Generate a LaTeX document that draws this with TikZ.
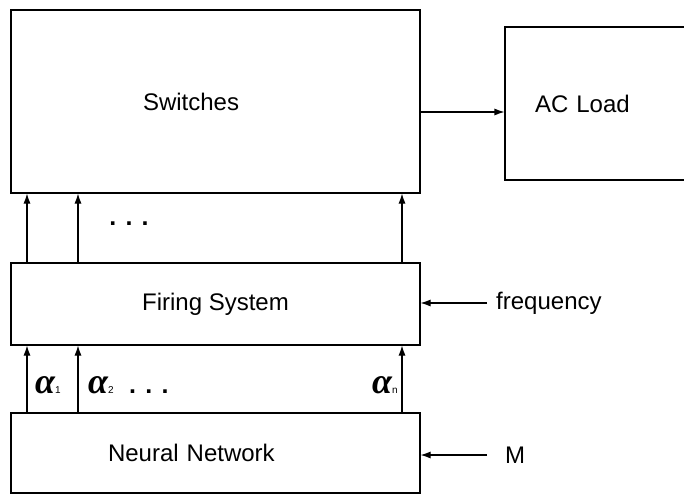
\documentclass[tikz,border=0pt]{standalone}
\usepackage{fontspec}
\setmainfont{Liberation Sans}
\newfontfamily\grkfont{Liberation Serif}
\usetikzlibrary{arrows.meta}
\newcommand{\alab}[1]{{\grkfont\itshape\bfseries\fontsize{36}{36}\selectfont α}{\fontsize{10}{10}\selectfont #1}}

\begin{document}
\begin{tikzpicture}[
  x=1pt, y=-1pt, >={Latex[length=10pt,width=7pt]},
  font=\fontsize{24}{28}\selectfont,
  blk/.style={draw,line width=1.1pt,minimum width=409pt,align=left},
  conn/.style={->,line width=1.1pt},
  dots/.style={font=\fontsize{25}{25}\selectfont\bfseries},
]
\path[use as bounding box] (0,0) rectangle (684,495);
\clip (0,0) rectangle (684,495);

% ---- blocks ----
\node[blk,minimum height=183pt,inner xsep=132pt,text width=145pt] (sw) at (215.5,101.5) {Switches};
\node[blk,minimum height=153pt,inner xsep=30pt,text width=160pt,minimum width=0pt] (acl) at (615,103.5) {AC Load};
\node[blk,minimum height=82pt,align=center] (fir) at (215.5,304) {Firing System};
\node[blk,minimum height=80pt,inner xsep=97pt,text width=215pt] (nn) at (215.5,453) {Neural Network};

% ---- inputs ----
\node[anchor=west,inner sep=0pt] (frq) at (496,303) {frequency};
\node[anchor=west,inner sep=0pt] (mm) at (505,455) {M};
\draw[conn] ([xshift=-9pt]frq.west) -- (fir.east |- frq.west);
\draw[conn] ([xshift=-18pt]mm.west) -- (nn.east |- mm.west);

% ---- connectors ----
\draw[conn] (sw.east |- 0,112) -- (acl.west |- 0,112);
\foreach \x in {27,78,402}{
  \draw[conn] (fir.north -| \x,0) -- (sw.south -| \x,0);
  \draw[conn] (nn.north -| \x,0) -- (fir.south -| \x,0);
}
\node[dots,inner sep=0pt] (dt) at (129,224) {. . .};

% ---- alpha labels ----
\node[anchor=base west,inner sep=0pt] (a1) at (35,393) {\alab{1}};
\node[anchor=base west,inner sep=0pt] (a2) at (88,393) {\alab{2}};
\node[dots,anchor=base west,inner sep=0pt] (db) at (129,393) {. . .};
\node[anchor=base west,inner sep=0pt] (an) at (372,393) {\alab{n}};
\end{tikzpicture}
\end{document}
